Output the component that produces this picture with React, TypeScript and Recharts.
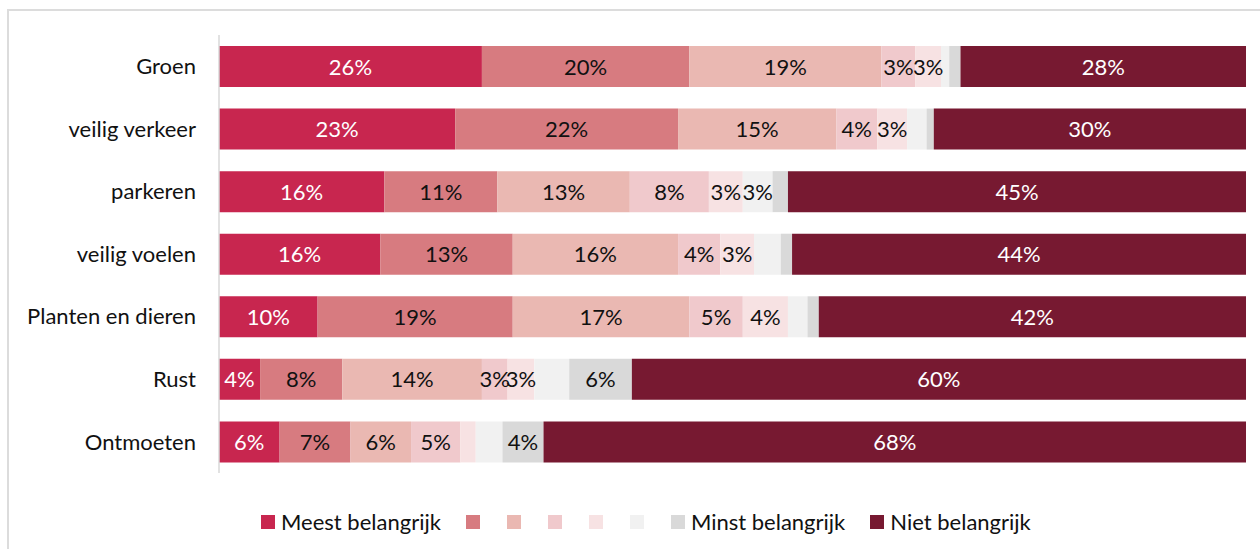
import React from "react";
import { BarChart, Bar, XAxis, YAxis, LabelList, Legend } from "recharts";

const categories = [
  "Groen",
  "veilig verkeer",
  "parkeren",
  "veilig voelen",
  "Planten en dieren",
  "Rust",
  "Ontmoeten",
];

const s1 = [25.6, 23.0, 16.1, 15.7, 9.6, 4.0, 5.9];
const s2 = [20.2, 21.7, 11.0, 12.9, 19.0, 8.0, 6.9];
const s3 = [18.7, 15.4, 12.9, 16.1, 17.2, 13.6, 5.9];
const s4 = [3.3, 4.0, 7.7, 4.1, 5.2, 2.5, 4.8];
const s5 = [2.5, 2.9, 3.3, 3.3, 4.4, 2.6, 1.5];
const s6 = [0.8, 1.9, 2.9, 2.6, 1.9, 3.4, 2.6];
const s7 = [1.1, 0.7, 1.5, 1.1, 1.1, 6.1, 4.0];
const s8 = [27.8, 30.4, 44.6, 44.2, 41.6, 59.8, 68.4];

const seriesKeys = ["s1", "s2", "s3", "s4", "s5", "s6", "s7", "s8"];
const seriesValues = [s1, s2, s3, s4, s5, s6, s7, s8];
const legendLabels = ["Meest belangrijk", "", "", "", "", "", "Minst belangrijk", "Niet belangrijk"];
const colors = ["#C8264F", "#D77B80", "#EAB8B2", "#F0C9CC", "#F7E2E3", "#F1F1F1", "#D9D9D9", "#771931"];
const labelColors = ["#FFFFFF", "#111111", "#111111", "#111111", "#111111", "#111111", "#111111", "#FFFFFF"];
// labels removed in the original chart
const hiddenLabels = ["veilig voelen:s6", "Rust:s6", "Ontmoeten:s6"];
const labelMin = 2.5;

const data = categories.map((name, i) => {
  const row: Record<string, any> = { name };
  seriesKeys.forEach((k, j) => {
    row[k] = seriesValues[j][i];
  });
  return row;
});

const FONT = "Lato, 'Noto Sans', sans-serif";

const makeLabel = (key: string, color: string) => (props: any) => {
  const { x, y, width, height, value, index } = props;
  const cat = categories[index];
  if (value < labelMin || hiddenLabels.includes(cat + ":" + key)) return null;
  return (
    <text
      x={x + width / 2}
      y={y + height / 2 + 8}
      textAnchor="middle"
      fill={color}
      fontSize={22}
      fontFamily={FONT}
    >
      {Math.round(value)}%
    </text>
  );
};

const renderLegend = () => (
  <div style={{ display: "flex", alignItems: "center", fontFamily: FONT, fontSize: 22, color: "#111", whiteSpace: "nowrap" }}>
    {seriesKeys.map((k, i) => (
      <div key={k} style={{ display: "flex", alignItems: "center", marginRight: legendLabels[i] ? 25 : 27 }}>
        <span style={{ display: "inline-block", width: 14, height: 14, background: colors[i], marginRight: legendLabels[i] ? 6 : 0 }} />
        {legendLabels[i] ? <span>{legendLabels[i]}</span> : null}
      </div>
    ))}
  </div>
);

export default function App() {
  return (
    <div style={{ position: "fixed", left: 0, top: 0, width: 1260, height: 549, background: "#fff", overflow: "hidden" }}>
      <div style={{ position: "absolute", left: 7, top: 9, width: 1300, height: 600, border: "2px solid #DCDCDC", boxSizing: "border-box" }} />
      <div style={{ position: "absolute", left: 0, top: 0 }}>
        <BarChart
          width={1260}
          height={549}
          data={data}
          layout="vertical"
          margin={{ top: 35, right: 14, bottom: 49, left: 0 }}
          barSize={41}
        >
          <XAxis type="number" domain={[0, 100]} hide />
          <YAxis
            type="category"
            dataKey="name"
            width={219}
            axisLine={{ stroke: "#D9D9D9", strokeWidth: 1.5 }}
            tickLine={false}
            tickSize={0}
            tickMargin={23}
            tick={{ fill: "#111", fontSize: 22, fontFamily: FONT }}
            interval={0}
          />
          <Legend
            content={renderLegend}
            wrapperStyle={{ position: "absolute", left: 261, top: 508, width: "auto" }}
          />
          {seriesKeys.map((k, i) => (
            <Bar key={k} dataKey={k} name={legendLabels[i] || " "} stackId="a" fill={colors[i]} isAnimationActive={false}>
              <LabelList dataKey={k} content={makeLabel(k, labelColors[i])} />
            </Bar>
          ))}
        </BarChart>
      </div>
    </div>
  );
}
